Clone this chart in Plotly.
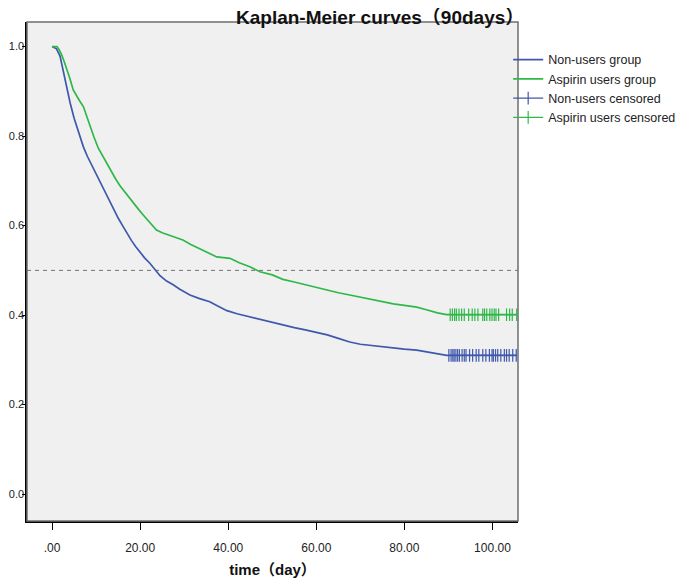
import plotly.graph_objects as go

# ---- data ----
nonuser_t = [0, 1, 1.8, 2.6, 3.3, 4.1, 5, 5.6, 6.3, 7.1, 8, 9, 10, 11, 12, 13, 14, 15, 16, 17, 18, 19, 20, 21,
             22.2, 23.5, 24.5, 26, 27.5, 29, 31.3, 33.5, 35.8, 37.5, 39.7, 42, 44.9, 47, 49.5, 52.4, 55, 57.5,
             60, 62.5, 65, 67.6, 70, 72.5, 75, 77.5, 80, 82.8, 85, 87.5, 89.6, 105.5]
nonuser_s = [1.0, 0.995, 0.979, 0.941, 0.91, 0.874, 0.84, 0.821, 0.797, 0.776, 0.755, 0.735, 0.715, 0.695,
             0.675, 0.655, 0.636, 0.617, 0.600, 0.583, 0.567, 0.553, 0.540, 0.528, 0.516, 0.500, 0.488, 0.476,
             0.468, 0.458, 0.445, 0.437, 0.430, 0.421, 0.410, 0.403, 0.396, 0.390, 0.385, 0.378, 0.372, 0.367,
             0.362, 0.356, 0.348, 0.340, 0.335, 0.332, 0.329, 0.326, 0.324, 0.322, 0.318, 0.314, 0.310, 0.310]

aspirin_t = [0, 1.1, 1.6, 2.2, 2.8, 3.3, 4.0, 4.8, 5.5, 6.3, 7.1, 7.8, 8.6, 9.5, 10.5, 11.5, 12.5, 13.5, 14.5,
             15.5, 16.5, 17.5, 18.5, 19.5, 20.5, 21.5, 22.2, 23, 23.7, 25, 27, 29.7, 31.5, 33.5, 35.5, 37.4,
             40.4, 42.5, 44.9, 47.2, 50, 52.4, 55, 57.5, 60, 62.5, 65, 67.6, 70, 72.5, 75, 77.5, 80, 82.8, 85,
             87.5, 89.6, 105.5]
aspirin_s = [1.0, 1.0, 0.993, 0.981, 0.965, 0.948, 0.93, 0.903, 0.89, 0.878, 0.866, 0.845, 0.821, 0.798, 0.773,
             0.755, 0.738, 0.72, 0.703, 0.688, 0.675, 0.662, 0.650, 0.638, 0.626, 0.615, 0.606, 0.598, 0.590,
             0.584, 0.577, 0.568, 0.558, 0.548, 0.538, 0.530, 0.527, 0.517, 0.508, 0.497, 0.490, 0.480, 0.474,
             0.468, 0.462, 0.455, 0.450, 0.445, 0.440, 0.435, 0.430, 0.425, 0.422, 0.418, 0.412, 0.405, 0.401,
             0.401]

nonuser_cens_t = [90.1, 90.6, 91.0, 91.3, 91.7, 92.1, 92.5, 93.1, 93.6, 94.0, 94.8, 95.5, 96.3, 96.9, 97.8,
                  98.5, 99.3, 99.9, 100.2, 100.7, 101.2, 101.9, 102.7, 103.2, 103.8, 104.6, 105.4]
nonuser_cens_s = [0.310] * len(nonuser_cens_t)
aspirin_cens_t = [90.4, 90.9, 91.4, 91.8, 92.4, 93.0, 93.6, 94.6, 95.4, 96.0, 96.7, 97.8, 98.2, 98.7, 99.4,
                  99.9, 100.4, 100.8, 101.4, 103.2, 103.9, 104.5, 105.5]
aspirin_cens_s = [0.401] * len(aspirin_cens_t)

x_tickvals = [0, 20, 40, 60, 80, 100]
x_ticktext = [".00", "20.00", "40.00", "60.00", "80.00", "100.00"]
y_tickvals = [0, 0.2, 0.4, 0.6, 0.8, 1.0]
y_ticktext = ["0.0", "0.2", "0.4", "0.6", "0.8", "1.0"]
reference_level = 0.5
title_text = "<b>Kaplan-Meier curves（90days）</b>"
x_title = "<b>time（day）</b>"

BLUE = "#3E58AC"
GREEN = "#2EB848"
FONT = "Liberation Sans, Arial, Noto Sans CJK SC, sans-serif"

fig = go.Figure()
fig.add_trace(go.Scatter(x=nonuser_t, y=nonuser_s, mode="lines",
                         line=dict(color=BLUE, width=1.7), name="Non-users group"))
fig.add_trace(go.Scatter(x=aspirin_t, y=aspirin_s, mode="lines",
                         line=dict(color=GREEN, width=1.7), name="Aspirin users group"))
fig.add_trace(go.Scatter(x=nonuser_cens_t, y=nonuser_cens_s, mode="lines+markers",
                         line=dict(color=BLUE, width=1.2),
                         marker=dict(symbol="line-ns-open", size=9, color=BLUE, line=dict(color=BLUE, width=1.2)),
                         name="Non-users censored"))
fig.add_trace(go.Scatter(x=aspirin_cens_t, y=aspirin_cens_s, mode="lines+markers",
                         line=dict(color=GREEN, width=1.2),
                         marker=dict(symbol="line-ns-open", size=9, color=GREEN, line=dict(color=GREEN, width=1.2)),
                         name="Aspirin users censored"))

# dashed reference line at 0.5
fig.add_shape(type="line", xref="paper", x0=0, x1=1, yref="y", y0=reference_level, y1=reference_level,
              line=dict(color="#707070", width=1, dash="4px,4px"), layer="below")
# frame (gray top/right)
fig.add_shape(type="rect", xref="paper", yref="paper", x0=0, x1=1, y0=0, y1=1,
              line=dict(color="#6e6e6e", width=1.5), layer="above")

# title as annotation (placed above the plot frame)
fig.add_annotation(text=title_text, xref="paper", yref="paper", x=(372 - 19) / 491, y=1 + 4 / 499,
                   xanchor="center", yanchor="middle", showarrow=False,
                   font=dict(size=19, color="#111111", family=FONT))

fig.update_layout(
    width=685, height=578,
    margin=dict(l=19, r=175, t=14, b=65, autoexpand=False),
    paper_bgcolor="white", plot_bgcolor="#F0F0F0",
    font=dict(family=FONT, size=12, color="#222222"),
    showlegend=True,
    legend=dict(x=0.980, xanchor="left", y=0.954, yanchor="top", bgcolor="rgba(0,0,0,0)",
                font=dict(size=12.5, color="#222222", family=FONT), tracegroupgap=0, itemwidth=30),
    xaxis=dict(range=[-5.7, 105.8], tickvals=x_tickvals, ticktext=x_ticktext, showgrid=False, zeroline=False,
               ticks="outside", ticklen=7, tickcolor="black", tickwidth=1.2, showline=True, linecolor="black",
               linewidth=1.5, tickfont=dict(size=12, color="#222222"), ticklabelstandoff=8, automargin=False,
               title=dict(text=x_title, font=dict(size=15, color="#111111"), standoff=10)),
    yaxis=dict(range=[-0.06, 1.055], tickvals=y_tickvals, ticktext=y_ticktext, showgrid=False, zeroline=False,
               ticks="outside", ticklen=3, tickcolor="black", tickwidth=1.2, showline=True, linecolor="black",
               linewidth=1.5, tickfont=dict(size=11, color="#222222"), ticklabelstandoff=-4, automargin=False),
)

fig.write_html("out.html")
